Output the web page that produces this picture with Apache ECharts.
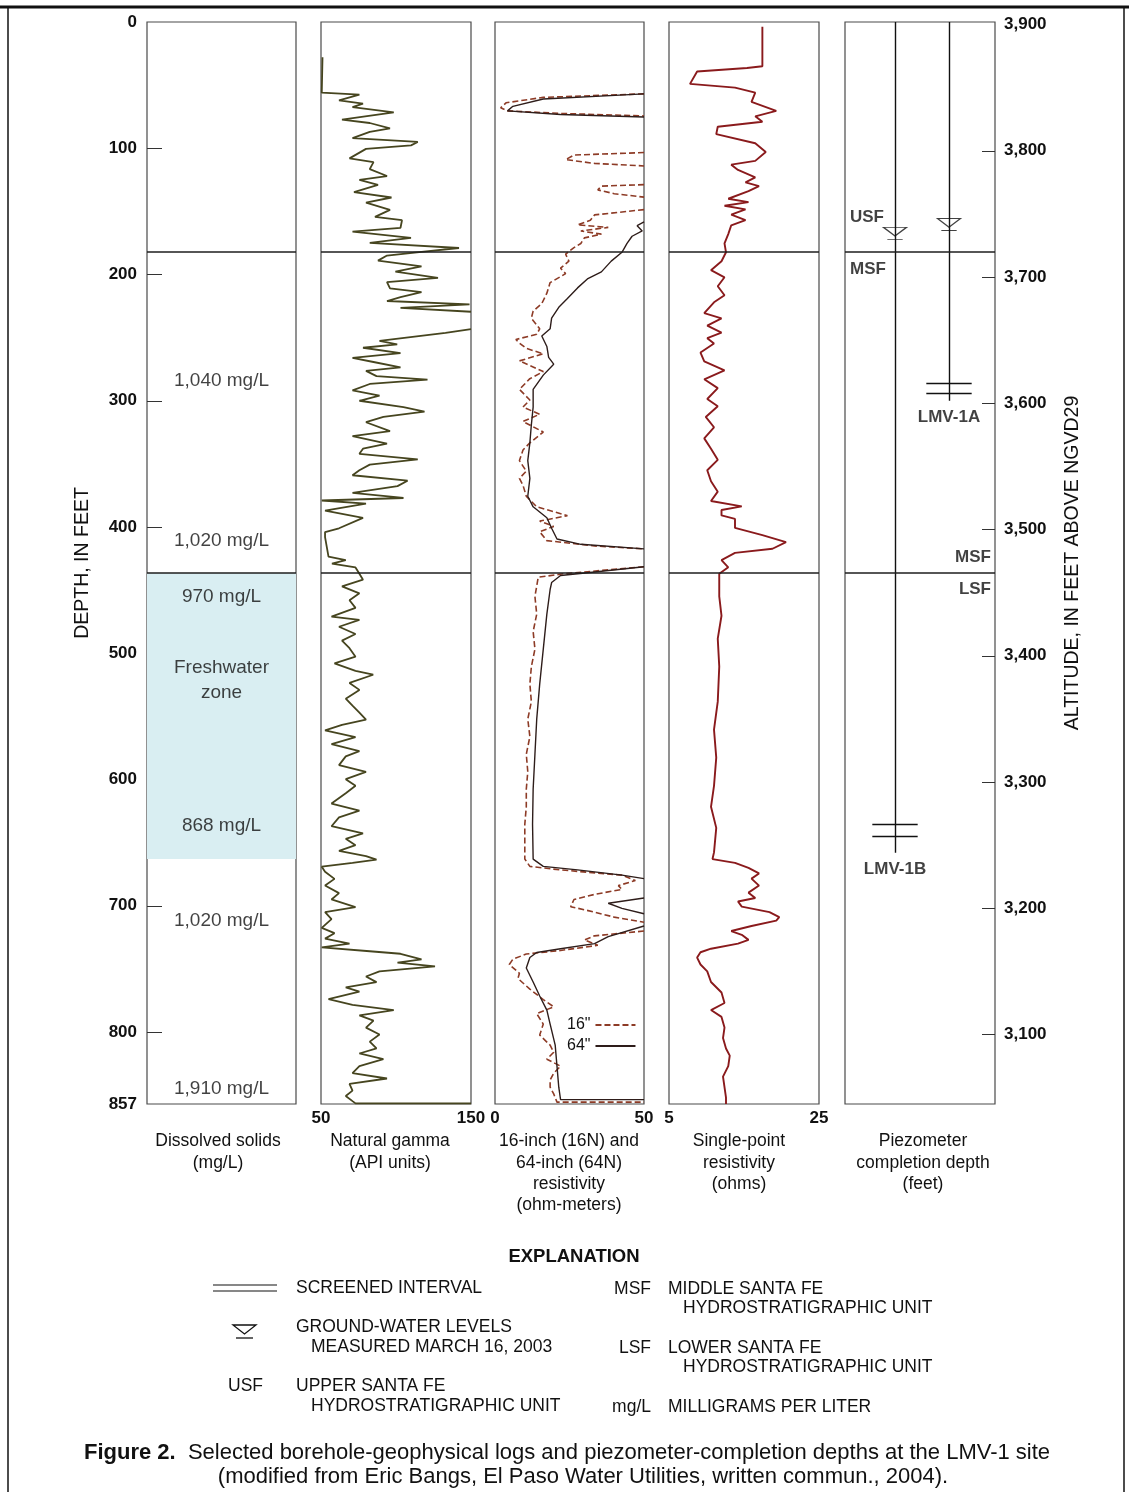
<!DOCTYPE html>
<html>
<head>
<meta charset="utf-8">
<script src="https://cdn.jsdelivr.net/npm/echarts@6/dist/echarts.min.js"></script>
<style>html,body{margin:0;padding:0;background:#fff}#c{width:1129px;height:1492px}</style>
</head>
<body>
<div id="c"></div>
<script>
// ---------------- DATA ----------------
const depthLabels = [0,100,200,300,400,500,600,700,800,857];
const depthTicks = [100,200,300,400,500,600,700,800];
const altitudeLabels = [3100,3200,3300,3400,3500,3600,3700,3800,3900];
const altitudeTicks = [3100,3200,3300,3400,3500,3600,3700,3800];
const unitBoundaries = [182, 436.5];            // USF/MSF, MSF/LSF depth (ft)
const freshwaterZone = [436.5, 663];            // depth range (ft)
const dissolvedDepth = [284, 411, 455, 637, 712, 845];
const dissolvedText = ['1,040 mg/L','1,020 mg/L','970 mg/L','868 mg/L','1,020 mg/L','1,910 mg/L'];
const zoneLabelDepth = 521;

// natural gamma: [API units, depth ft]
const gammaLog = [[51,28],[50.5,56],[75.6,57.6],[62,62],[78,64.6],[71,67.4],[98.5,71.6],[64,77.3],[82.5,80],[96,84.3],[82.5,87],[71,92],[114.5,95],[110,97.7],[80,100.5],[69,108],[85,111],[82.5,116.5],[94,122],[75.6,125],[88,129],[72,134.7],[97,139],[80,143],[96,148.8],[86,154.4],[104,157],[103,163],[71,166],[110,171],[82.5,175],[142,179],[117,182],[94,185],[88,189],[117,193.6],[99.6,197.8],[128,202.6],[94,206],[96,211],[117,214],[103,218],[94,221],[149,223.6],[103,226.4],[150,229.5],['-','-'],[150,243.2],[133,246.3],[89,252.5],[100.8,255.3],[78,258],[103,262.3],[71,266],[85,269.3],[103,273.5],[80,276.3],[87,280.5],[121,283.3],[82.5,286.7],[71,291.8],[89,296],[75.6,300],[105,305],[119,308.6],[91.6,312.8],[80,317],[96,324],[71,328],[94,334],[78,338],[75.6,342],[114.5,346.4],[82.5,350.6],[75.6,355],[71,359],[107.7,363.3],[101,367.6],[71,373],[105,377],[50.5,379],[80,381.5],[52.7,387],[78,392.7],[62,401],[52.7,404],[52.7,408],[55,423.4],[66.5,426.3],[57.3,429],[73,432],[75.6,437],[78,441.7],[64,447],[75.6,452.5],[69,458],[73,464],[57,471],[75.6,473.6],[62,479],[73,484.7],[64,490],[69,496],[73,502.7],[59,508],[73,514],[84.8,517],[69,523.5],[75.6,529],[66.5,536],[71,541.5],[75.6,547],[80,552.6],[64,556.7],[52.7,561],[73,566.5],[57,572],[75.6,577.5],[66.5,581.7],[62,588.6],[80,594],[66.5,599.7],[73,605],[66.5,610.8],[57,619],[75.6,624.7],[62,630],[57,637],[78,642.7],[66.5,647],[73,652],[62,656.5],[80,660.7],[87,663.5],[71,666],[50.5,669],[52.7,673],[59,678.7],[52.7,684],[62,690],[57,695],[73,701],[52.7,705],[57,710.6],[50.5,717.5],[59,721.7],[52.7,726],[69,730],[50.5,733],[82.5,736],[103,738],[117,742.5],[101,745],[126,748],[89,752],[80,756],[87,760.5],[66.5,764.6],[75.6,768],[55,774],[71,778.5],[98.5,782.7],[75.6,786.8],[85,791],[80,796.5],[89,802],[82.5,807.6],[87,813],[75.6,817],[91.6,821.5],[75.6,827],[71,832.6],[94,836.8],[69,841],[71,846.4],[66.5,850.6],[71,854.7],[73,856.5],[150,856.5]];

// 16-inch normal resistivity: [ohm-m, depth ft]
const res16N = [[50,56.9],[16.2,59.7],[3.7,64],[1.9,68],[4.2,70.4],[22,72.4],[50,74.4],['-','-'],[50,103.4],[26.5,105.4],[23.7,109],[33.4,112],[50,114],['-','-'],[50,128.8],[35.7,130],[34.5,133],[40,136],[50,138.7],['-','-'],[50,148.6],[33.4,152.8],[32,157],[27.7,160.7],[38,162.7],[28.8,165.5],[35.7,168],[30,171],[28.8,175.4],[26.5,178.7],[23.7,183.8],[24.8,189.4],[22,195],[23.7,199.3],[18.5,206.4],[17.4,214.8],[15.7,223],[12.8,229],[12.2,234.6],[15,243],[14,247.3],[7,251.5],[8.2,254.3],[10.5,258.5],[16.2,262.8],[8.2,268.4],[16.2,276.9],[11.7,282.5],[8.2,291],[11.7,299.4],[9.4,305],[15,310.7],[9.4,316.4],[16.2,324.8],[11.7,333.3],[9.4,339],[8.2,347.4],[10.5,355.8],[8.2,361.5],[9.4,367],[10.5,375.6],[14,384],[24.3,391],[15,395.3],[19.7,399.5],[15,403.8],[17.4,410.8],[33.4,415],[50,417.3],['-','-'],[50,431.5],[23,437],[14.5,439.8],[13.4,455],[14,469],[12.8,482.8],[13.4,496.7],[12.2,510.6],[11.7,524.4],[12.2,538.3],[11,552.2],[11.7,566],[10.5,580],[11,593.8],[10.5,607.7],[10.5,621.6],[10,635.5],[10,649.4],[10,663],[11.7,668.8],[22,671.6],[42.6,675.7],[47.1,680],[41.4,684],[42.6,687],[33.4,691],[26.5,695],[25.4,700.7],[33.4,705],[40,709],[50,713],['-','-'],[50,720],[33.4,723.8],[30,727],[34.5,731.3],[22,735.4],[10.5,738.2],[6,742.3],[4.8,746.5],[8.2,753.5],[7.7,757.6],[11.7,766],[16.2,774.3],[19.7,780],[14,785.4],[16.2,793.7],[15,802.4],[18.5,810.4],[19.7,816],[17.4,821.5],[22,827],[19.7,832.6],[18.5,838],[18.5,843.7],[19.7,849],[20.8,855.5],[50,855.5]];

// 64-inch normal resistivity: [ohm-m, depth ft]
const res64N = [[50,56.9],[16.2,61],[6,66.8],[4.2,70.4],[22,73.3],[50,75.2],['-','-'],[50,158.4],[47.7,161.3],[49.4,165.5],[46,169.7],[44.3,175.4],[42.6,182.4],[39,189.4],[35.7,197.9],[31,203.5],[27.7,210.6],[24.3,219],[21.4,226],[19,234.6],[18.5,243],[15.7,248.7],[17.4,257],[18,265.6],[19.7,271],[16.2,279.7],[12.8,291],[12.8,305],[12.2,319],[11.7,333.3],[11,347.4],[11.7,361.5],[11,375.6],[12.8,384],[17.4,392.6],[19,401],[20.8,409.5],[28.8,413.7],[50,417.3],['-','-'],[50,431.5],[31,436.2],[22,438.4],[19,444],[18.5,449.5],[17.4,469],[16.2,496.7],[15,524.4],[14,552.2],[13.4,580],[12.8,607.7],[12.6,635.5],[12.8,663],[16.2,668.8],[27.7,671.6],[42.6,675.7],[50,678.5],['-','-'],[50,693.8],[38,698],[42.6,702],[50,706.3],['-','-'],[50,716],[38,724.4],[33.4,730],[22,734],[14,737],[11.7,741],[10.5,749.3],[12.8,760.4],[15,771.5],[17.4,782.6],[18.5,793.7],[20.2,810.4],[20.8,827],[21.4,843.7],[22,853.5],[50,853.5]];

// single-point resistivity: [ohms, depth ft]
const spLog = [[17.45,3.8],[17.45,35],[15.4,36.4],[8.75,39.2],[7.8,49],[13.8,52],[16.5,56],[16,63.3],[19.3,70.4],[16.5,74.7],[17.45,79],[11.5,83],[11.3,88.8],[16.5,96],[17.9,103],[16.5,110],[13.3,113],[14.2,117.2],[16.5,123],[15.2,127],[17,130],[15.6,134],[12.9,140],[15.6,142.7],[12.4,145.5],[15.2,148.4],[13.3,152.6],[15.2,156.9],[13.3,161],[12.9,168],[12.4,175.3],[12.6,182.4],[12,189.5],[10.6,196.6],[12.4,202.2],[11.5,209.3],[12.4,216.4],[11,222],[9.7,230.6],[12,234.8],[10.1,240.5],[12,246],[10.1,250.4],[11,254.7],[9.2,261.8],[9.7,268.8],[12.4,276],[9.7,283],[11.5,290],[10.1,298.6],[11.5,304.3],[9.9,312.8],[11,321],[9.7,329.8],[10.6,338],[11.5,346.8],[10.1,355],[10.6,363.8],[11.5,372],[10.6,379.4],[14.7,383.7],[12,386.5],[12,390.8],[13.8,393.6],[13.8,400.7],[17.45,406.4],[20.6,412],[18.8,417.2],[13.8,420.5],[12,426.2],[12.9,431.9],[11.7,437],[11.7,455],[12,470.3],[11.5,488.4],[11.7,510.6],[11.5,538.3],[11,560.5],[11.3,582.7],[11,605],[10.6,621.6],[11.3,638.3],[11,657.7],[10.8,663],[13.8,666],[15.6,670],[17,674.4],[16,678.5],[17,684],[15.6,689.6],[16.5,693.8],[14.2,696.6],[14.7,700.7],[18.4,705],[19.7,709],[19.3,711.8],[16,716],[13.3,720],[14.7,723],[15.6,727],[14.2,730],[10.6,734],[9.2,736.8],[8.75,741],[9.2,746.5],[10.1,752],[10.6,760.4],[12,768.7],[12.4,777],[10.6,782.6],[12,788],[12.4,796.5],[12.2,804.8],[12.6,813],[13.1,818.7],[12.9,827],[12.2,835.3],[12.4,843.7],[12.6,852],[12.6,857]];

// piezometers
const wellNames = ['LMV-1B', 'LMV-1A'];
const wellBottom = [658, 300];
const screenTop = [635.5, 285.8];
const screenBottom = [644.6, 293.7];
const waterLevel = [169, 162];
const unitNames = ['USF', 'MSF', 'LSF'];

// ---------------- CHART ----------------
const FONT = "'Liberation Sans', Arial, Helvetica, sans-serif";
const INK = '#111111';
const TOP = 22, H = 1082;
const panelLeft = [147, 321, 495, 669, 845];
const panelWidth = [149, 150, 149, 150, 150];
const maxDepth = 857;
const altTop = 3902;

const chart = echarts.init(document.getElementById('c'), null, {renderer: 'canvas', width: 1129, height: 1492});

const grids = panelLeft.map((l, i) => ({left: l, top: TOP, width: panelWidth[i], height: H, show: true, borderColor: '#4a4a4a', borderWidth: 1.2, backgroundColor: 'rgba(0,0,0,0)'}));

const tickLabel = {color: INK, fontFamily: FONT, fontSize: 17};
function xValAxis(g, min, max, show) {
  return {
    gridIndex: g, type: 'value', min: min, max: max, show: show,
    axisLine: {show: false}, axisTick: {show: false}, splitLine: {show: false},
    axisLabel: Object.assign({customValues: [min, max], margin: 6, fontWeight: 'bold'}, tickLabel)
  };
}
const xAxes = [
  xValAxis(0, 0, 1, false),
  xValAxis(1, 50, 150, true),
  xValAxis(2, 0, 50, true),
  xValAxis(3, 5, 25, true),
  xValAxis(4, -0.926, 1.852, false)
];

const yAxes = [
  {gridIndex: 0, type: 'value', inverse: true, min: 0, max: maxDepth,
   name: 'DEPTH, IN FEET', nameLocation: 'middle', nameGap: 54, nameRotate: 90,
   nameTextStyle: {color: INK, fontFamily: FONT, fontSize: 19.5},
   axisLine: {show: false}, splitLine: {show: false},
   axisTick: {show: true, inside: true, length: 15, customValues: depthTicks, lineStyle: {color: '#333', width: 1}},
   axisLabel: Object.assign({customValues: depthLabels, margin: 10, fontWeight: 'bold'}, tickLabel)},
  {gridIndex: 1, type: 'value', inverse: true, min: 0, max: maxDepth, show: false},
  {gridIndex: 2, type: 'value', inverse: true, min: 0, max: maxDepth, show: false},
  {gridIndex: 3, type: 'value', inverse: true, min: 0, max: maxDepth, show: false},
  {gridIndex: 4, type: 'value', inverse: true, min: 0, max: maxDepth, show: false},
  {gridIndex: 4, type: 'value', position: 'right', min: altTop - maxDepth, max: altTop,
   name: 'ALTITUDE, IN FEET ABOVE NGVD29', nameLocation: 'middle', nameGap: 68, nameRotate: 90,
   nameTextStyle: {color: INK, fontFamily: FONT, fontSize: 19.5},
   axisLine: {show: false}, splitLine: {show: false},
   axisTick: {show: true, inside: true, length: 13, customValues: altitudeTicks, lineStyle: {color: '#333', width: 1}},
   axisLabel: Object.assign({customValues: altitudeLabels, margin: 9, fontWeight: 'bold', formatter: v => Number(v).toLocaleString('en-US')}, tickLabel)}
];

const dividerMark = {
  silent: true, symbol: 'none', animation: false,
  label: {show: false},
  lineStyle: {color: '#1e1e1e', width: 1.5, type: 'solid'},
  data: unitBoundaries.map(d => ({yAxis: d}))
};

const series = [];

// panel 1: dissolved solids
series.push({
  type: 'scatter', xAxisIndex: 0, yAxisIndex: 0, symbolSize: 1, itemStyle: {color: 'rgba(0,0,0,0)'},
  data: dissolvedDepth.map((d, i) => [0.5, d, dissolvedText[i]]).concat([[0.5, zoneLabelDepth, 'Freshwater\nzone']]),
  label: {show: true, position: 'inside', formatter: p => p.data[2], color: INK, fontFamily: FONT, fontSize: 19, lineHeight: 25},
  markArea: {silent: true, itemStyle: {color: '#d9eef2'}, data: [[{yAxis: freshwaterZone[0]}, {yAxis: freshwaterZone[1]}]]},
  markLine: dividerMark, z: 3
});

// panel 2: gamma
series.push({
  type: 'line', name: 'Natural gamma', xAxisIndex: 1, yAxisIndex: 1, data: gammaLog,
  symbol: 'none', connectNulls: false, clip: true,
  lineStyle: {color: '#46451f', width: 1.8}, markLine: dividerMark
});

// panel 3: resistivity
series.push({
  type: 'line', name: '16"', xAxisIndex: 2, yAxisIndex: 2, data: res16N,
  symbol: 'none', connectNulls: false, clip: true,
  itemStyle: {color: '#8d3b26'},
  lineStyle: {color: '#8d3b26', width: 1.6, type: [6, 3]}, markLine: dividerMark
});
series.push({
  type: 'line', name: '64"', xAxisIndex: 2, yAxisIndex: 2, data: res64N,
  symbol: 'none', connectNulls: false, clip: true,
  itemStyle: {color: '#2e1d1a'},
  lineStyle: {color: '#2e1d1a', width: 1.4}
});

// panel 4: single-point resistivity
series.push({
  type: 'line', name: 'Single-point resistivity', xAxisIndex: 3, yAxisIndex: 3, data: spLog,
  symbol: 'none', clip: true,
  lineStyle: {color: '#8a1a1c', width: 1.9}, markLine: dividerMark
});

// panel 5: piezometers
series.push({
  type: 'lines', coordinateSystem: 'cartesian2d', xAxisIndex: 4, yAxisIndex: 4, silent: true,
  lineStyle: {color: '#111', width: 1.4, opacity: 1},
  data: wellNames.map((n, i) => ({coords: [[i, 0], [i, wellBottom[i]]]})),
  markLine: dividerMark
});
series.push({
  type: 'lines', coordinateSystem: 'cartesian2d', xAxisIndex: 4, yAxisIndex: 4, silent: true,
  lineStyle: {color: '#111', width: 1.4, opacity: 1},
  data: wellNames.flatMap((n, i) => [
    {coords: [[i - 0.42, screenTop[i]], [i + 0.42, screenTop[i]]]},
    {coords: [[i - 0.42, screenBottom[i]], [i + 0.42, screenBottom[i]]]}
  ])
});
series.push({
  type: 'scatter', xAxisIndex: 4, yAxisIndex: 4, silent: true,
  symbol: 'path://M0,0 L24,0 L12,9 Z M4,12.5 L20,12.5', symbolSize: [23, 12], symbolOffset: [0, -2],
  itemStyle: {color: 'rgba(0,0,0,0)', borderColor: '#111', borderWidth: 1.3},
  data: wellNames.map((n, i) => [i, waterLevel[i]])
});
series.push({
  type: 'scatter', xAxisIndex: 4, yAxisIndex: 4, silent: true, symbolSize: 0,
  data: wellNames.map((n, i) => [i, wellBottom[i], n]),
  label: {show: true, position: 'bottom', distance: 8, formatter: p => p.data[2], color: INK, fontFamily: FONT, fontSize: 17, fontWeight: 'bold'}
});
// hydrostratigraphic unit labels along boundaries
const pzMin = -0.926, pzMax = 1.852;
series.push({
  type: 'scatter', xAxisIndex: 4, yAxisIndex: 4, silent: true, symbolSize: 0,
  data: [
    {value: [pzMin, unitBoundaries[0]], name: unitNames[0], label: {position: [5, -34], align: 'left'}},
    {value: [pzMin, unitBoundaries[0]], name: unitNames[1], label: {position: [5, 18], align: 'left'}},
    {value: [pzMax, unitBoundaries[1]], name: unitNames[1], label: {position: [-4, -16], align: 'right'}},
    {value: [pzMax, unitBoundaries[1]], name: unitNames[2], label: {position: [-4, 16], align: 'right'}}
  ],
  label: {show: true, formatter: p => p.name, verticalAlign: 'middle', color: INK, fontFamily: FONT, fontSize: 17, fontWeight: 'bold'}
});

// ---------------- GRAPHIC TEXT ----------------
const g = [];
function txt(text, x, y, opts) {
  g.push({type: 'text', silent: true, style: Object.assign({text: text, x: x, y: y, fill: INK, font: '17.5px ' + FONT, textAlign: 'left', textVerticalAlign: 'middle'}, opts || {})});
}
function ln(x1, y1, x2, y2, w) {
  g.push({type: 'line', silent: true, shape: {x1, y1, x2, y2}, style: {stroke: '#111', lineWidth: w || 1.3}});
}
// page frame
ln(0, 7, 1129, 7, 3);
ln(8, 7, 8, 1492, 1.5);
ln(1124, 7, 1124, 1492, 1.5);

// panel titles
const titles = [
  ['Dissolved solids\n(mg/L)', 218],
  ['Natural gamma\n(API units)', 390],
  ['16-inch (16N) and\n64-inch (64N)\nresistivity\n(ohm-meters)', 569],
  ['Single-point\nresistivity\n(ohms)', 739],
  ['Piezometer\ncompletion depth\n(feet)', 923]
];
titles.forEach(t => g.push({type: 'text', silent: true, style: {text: t[0], x: t[1], y: 1131, fill: INK, font: '17.5px ' + FONT, textAlign: 'center', textVerticalAlign: 'top', lineHeight: 21.3}}));

// explanation
txt('EXPLANATION', 574, 1257, {font: 'bold 18.5px ' + FONT, textAlign: 'center'});
ln(213, 1285, 277, 1285, 1.2); ln(213, 1291, 277, 1291, 1.2);
txt('SCREENED INTERVAL', 296, 1288);
g.push({type: 'polygon', silent: true, shape: {points: [[233, 1325], [256, 1325], [244.5, 1334]]}, style: {fill: 'none', stroke: '#111', lineWidth: 1.3}});
ln(236, 1338, 253, 1338, 1.3);
txt('GROUND-WATER LEVELS', 296, 1327);
txt('MEASURED MARCH 16, 2003', 311, 1347);
txt('USF', 228, 1386);
txt('UPPER SANTA FE', 296, 1386);
txt('HYDROSTRATIGRAPHIC UNIT', 311, 1406);
txt('MSF', 651, 1289, {textAlign: 'right'});
txt('MIDDLE SANTA FE', 668, 1289);
txt('HYDROSTRATIGRAPHIC UNIT', 683, 1308);
txt('LSF', 651, 1348, {textAlign: 'right'});
txt('LOWER SANTA FE', 668, 1348);
txt('HYDROSTRATIGRAPHIC UNIT', 683, 1367);
txt('mg/L', 651, 1407, {textAlign: 'right'});
txt('MILLIGRAMS PER LITER', 668, 1407);

// caption
g.push({type: 'text', silent: true, style: {
  text: '{b|Figure 2.}  Selected borehole-geophysical logs and piezometer-completion depths at the LMV-1 site',
  x: 84, y: 1453, textAlign: 'left', textVerticalAlign: 'middle', fill: INK, font: '22px ' + FONT,
  rich: {b: {font: 'bold 22px ' + FONT, fill: INK}}
}});
txt('(modified from Eric Bangs, El Paso Water Utilities, written commun., 2004).', 583, 1477, {font: '22px ' + FONT, textAlign: 'center'});

chart.setOption({
  animation: false,
  backgroundColor: '#ffffff',
  textStyle: {fontFamily: FONT},
  grid: grids,
  xAxis: xAxes,
  yAxis: yAxes,
  legend: {
    data: ['16"', '64"'], left: 562, top: 1012, orient: 'vertical', align: 'right',
    itemWidth: 40, itemHeight: 10, itemGap: 5, selectedMode: false,
    itemStyle: {opacity: 0},
    textStyle: {color: INK, fontFamily: FONT, fontSize: 16}
  },
  series: series,
  graphic: g
});
</script>
</body>
</html>
